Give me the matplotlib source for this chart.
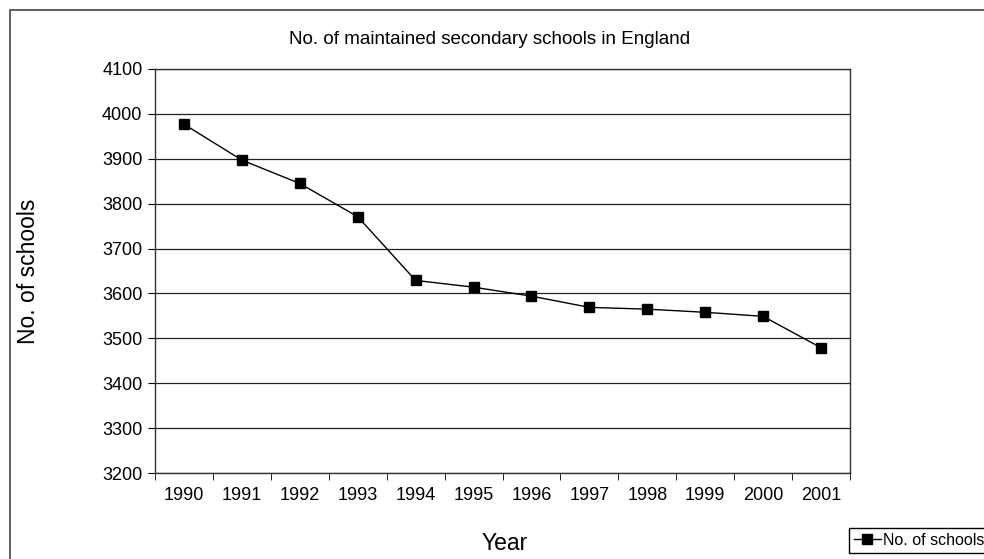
import matplotlib
matplotlib.use("Agg")
import matplotlib.pyplot as plt
from matplotlib.patches import Rectangle

plt.rcParams['font.family'] = ['Liberation Sans', 'DejaVu Sans']

years = ['1990', '1991', '1992', '1993', '1994', '1995',
         '1996', '1997', '1998', '1999', '2000', '2001']
schools = [3977, 3897, 3845, 3771, 3629, 3614,
           3594, 3569, 3565, 3558, 3549, 3479]
y_ticks = list(range(3200, 4101, 100))

fig = plt.figure(figsize=(9.84, 5.59), dpi=100)
W, H = 984, 559
ax = fig.add_axes([155 / W, 1 - 473 / H, (850 - 155) / W, (473 - 69) / H])

x = list(range(len(years)))
line, = ax.plot(x, schools, color='black', linewidth=1.0, marker='s',
                markersize=6.5, markerfacecolor='black', markeredgecolor='black',
                label='No. of schools')

ax.set_xlim(-0.5, len(years) - 0.5)
ax.set_ylim(3200, 4100)
ax.set_yticks(y_ticks)
ax.set_xticks(x)
ax.set_xticklabels(years)
# tick marks sit between categories, like the original
ax.set_xticks([i - 0.5 for i in range(len(years) + 1)], minor=True)
ax.tick_params(axis='x', which='major', length=0, pad=10, labelsize=13)
ax.tick_params(axis='x', which='minor', length=5, direction='out', color='black')
ax.tick_params(axis='y', length=5, direction='out', labelsize=13, pad=4)
ax.grid(axis='y', color='#222222', linewidth=0.9)
ax.set_axisbelow(True)
for s in ax.spines.values():
    s.set_color('#333333')
    s.set_linewidth(1.0)

fig.text(490 / W, 1 - 40 / H, 'No. of maintained secondary schools in England',
         fontsize=13.5, ha='center', va='center')
ax.set_xlabel('Year', fontsize=16.5)
ax.set_ylabel('No. of schools', fontsize=16.5)
ax.xaxis.set_label_coords((505 - 155) / 695, (473 - 543) / 404)
ax.yaxis.set_label_coords((29 - 155) / 695, 0.5)
ax.xaxis.label.set_va('center')
ax.yaxis.label.set_va('center')

# outer chart border (cut off on the right and bottom)
fig.patches.append(Rectangle((10 / W, -0.2), 1.2, 1.2 - 10 / H,
                             transform=fig.transFigure, fill=False,
                             edgecolor='#444444', linewidth=1.2))

leg = fig.legend(handles=[line], loc='upper left',
                 bbox_to_anchor=(849 / W, 1 - 528 / H), fontsize=11.5,
                 fancybox=False, edgecolor='black', framealpha=1,
                 handlelength=1.7, handletextpad=0.1, borderpad=0.3,
                 borderaxespad=0)
leg.get_frame().set_linewidth(1.0)

fig.savefig('out.png', dpi=100)
